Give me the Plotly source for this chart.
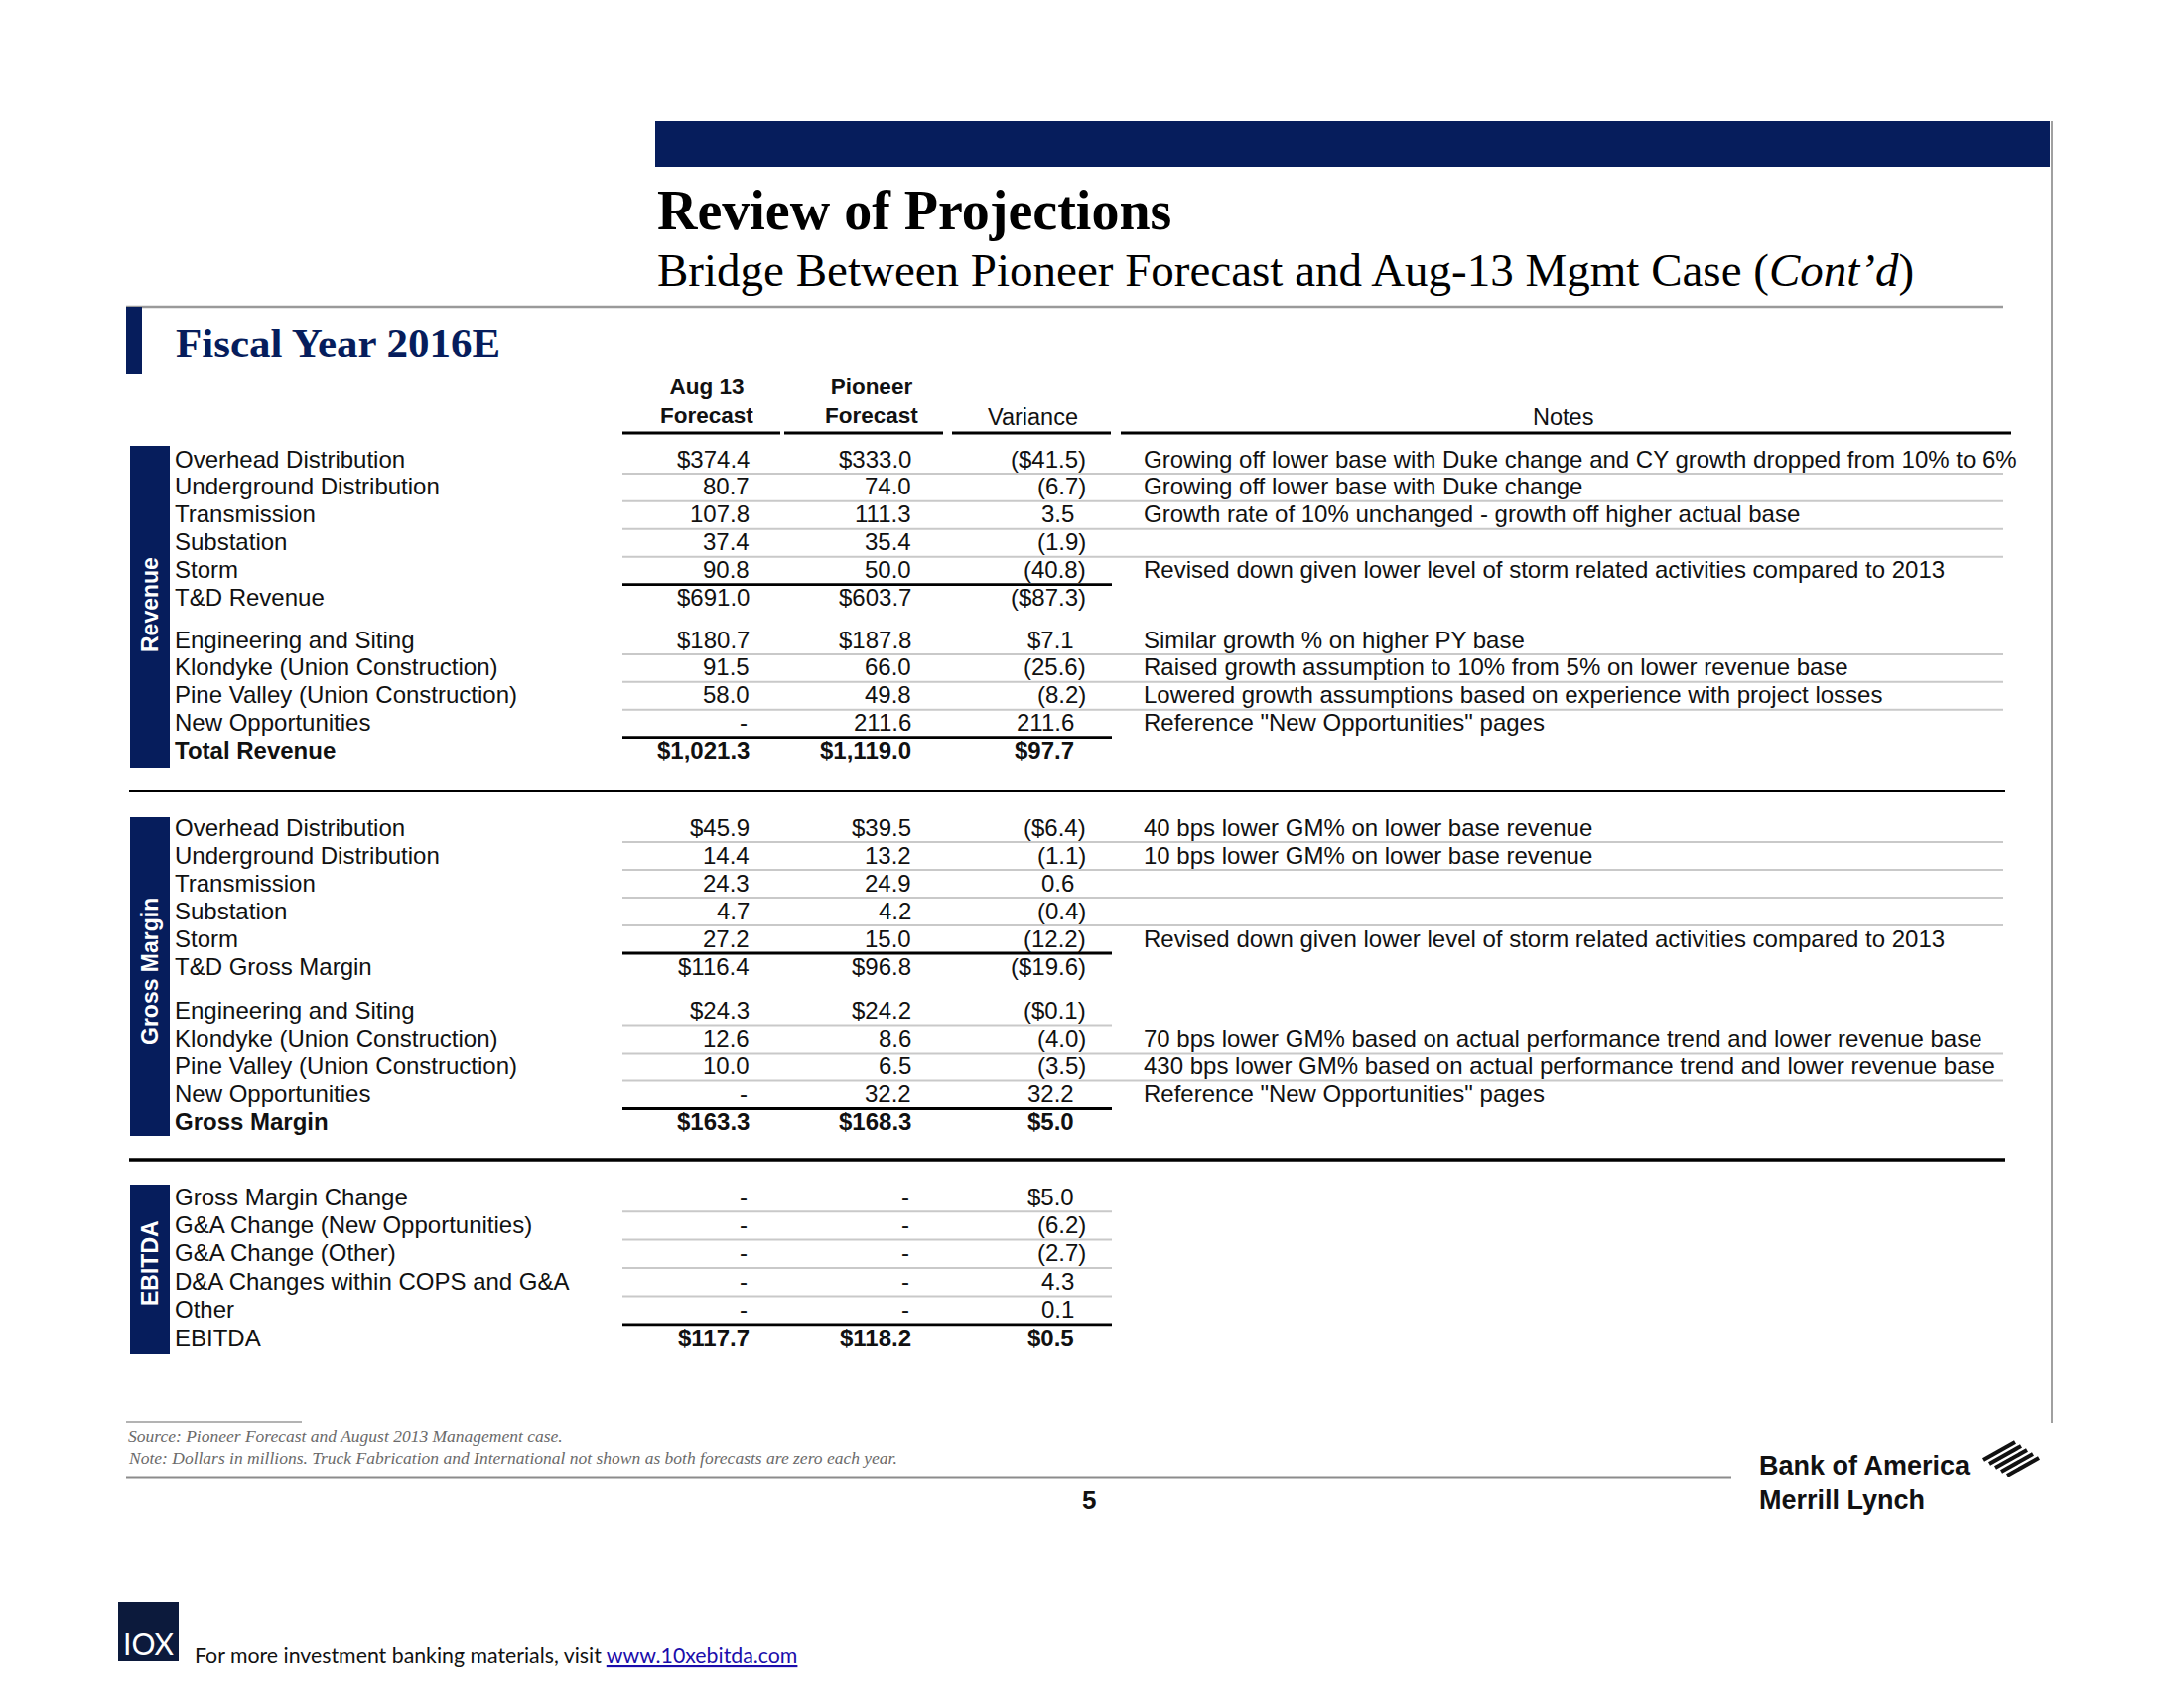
import plotly.graph_objects as go

# ---------------- DATA ----------------
title = "Review of Projections"
subtitle = "Bridge Between Pioneer Forecast and Aug-13 Mgmt Case (<i>Cont\u2019d</i>)"
section_title = "Fiscal Year 2016E"
col_headers = ["Aug 13<br>Forecast", "Pioneer<br>Forecast", "Variance", "Notes"]

rev_labels = ["Overhead Distribution", "Underground Distribution", "Transmission", "Substation", "Storm",
              "T&D Revenue", "Engineering and Siting", "Klondyke (Union Construction)",
              "Pine Valley (Union Construction)", "New Opportunities", "Total Revenue"]
rev_aug = [374.4, 80.7, 107.8, 37.4, 90.8, 691.0, 180.7, 91.5, 58.0, None, 1021.3]
rev_pio = [333.0, 74.0, 111.3, 35.4, 50.0, 603.7, 187.8, 66.0, 49.8, 211.6, 1119.0]
rev_var = [-41.5, -6.7, 3.5, -1.9, -40.8, -87.3, 7.1, -25.6, -8.2, 211.6, 97.7]
rev_notes = ["Growing off lower base with Duke change and CY growth dropped from 10% to 6%",
             "Growing off lower base with Duke change",
             "Growth rate of 10% unchanged - growth off higher actual base",
             "",
             "Revised down given lower level of storm related activities compared to 2013",
             "",
             "Similar growth % on higher PY base",
             "Raised growth assumption to 10% from 5% on lower revenue base",
             "Lowered growth assumptions based on experience with project losses",
             "Reference \"New Opportunities\" pages",
             ""]

gm_labels = ["Overhead Distribution", "Underground Distribution", "Transmission", "Substation", "Storm",
             "T&D Gross Margin", "Engineering and Siting", "Klondyke (Union Construction)",
             "Pine Valley (Union Construction)", "New Opportunities", "Gross Margin"]
gm_aug = [45.9, 14.4, 24.3, 4.7, 27.2, 116.4, 24.3, 12.6, 10.0, None, 163.3]
gm_pio = [39.5, 13.2, 24.9, 4.2, 15.0, 96.8, 24.2, 8.6, 6.5, 32.2, 168.3]
gm_var = [-6.4, -1.1, 0.6, -0.4, -12.2, -19.6, -0.1, -4.0, -3.5, 32.2, 5.0]
gm_notes = ["40 bps lower GM% on lower base revenue",
            "10 bps lower GM% on lower base revenue",
            "", "",
            "Revised down given lower level of storm related activities compared to 2013",
            "", "",
            "70 bps lower GM% based on actual performance trend and lower revenue base",
            "430 bps lower GM% based on actual performance trend and lower revenue base",
            "Reference \"New Opportunities\" pages",
            ""]

eb_labels = ["Gross Margin Change", "G&A Change (New Opportunities)", "G&A Change (Other)",
             "D&A Changes within COPS and G&A", "Other", "EBITDA"]
eb_aug = [None, None, None, None, None, 117.7]
eb_pio = [None, None, None, None, None, 118.2]
eb_var = [5.0, -6.2, -2.7, 4.3, 0.1, 0.5]
eb_notes = ["", "", "", "", "", ""]

side_titles = ["Revenue", "Gross Margin", "EBITDA"]
footnote_source = "Source: Pioneer Forecast and August 2013 Management case."
footnote_note = "Note: Dollars in millions. Truck Fabrication and International not shown as both forecasts are zero each year."
page_number = "5"
footer_text = "For more investment banking materials, visit "
footer_link = "www.10xebitda.com"

# ---------------- STYLE / LAYOUT ----------------
NAVY = "#061d5c"
SANS = "Liberation Sans, Arial, sans-serif"
SERIF = "Liberation Serif, Times New Roman, serif"
FS = 24
GRAY_LINE = "#c9c9c9"

X_LABEL = 174
X_C1 = 757
X_C2 = 920
X_C3_NEG = 1096
X_C3_POS = 1084
X_NOTE = 1150
NUM_L, NUM_R = 627, 1120
NOTE_L, NOTE_R = 1120, 2018

shapes = []
ann = []


def line(x0, y0, x1, y1, color, w):
    shapes.append(dict(type="line", x0=x0, y0=y0, x1=x1, y1=y1, xref="x", yref="y",
                       line=dict(color=color, width=w)))


def rect(x0, y0, x1, y1, color):
    shapes.append(dict(type="rect", x0=x0, y0=y0, x1=x1, y1=y1, xref="x", yref="y",
                       line=dict(width=0), fillcolor=color))


def text(x, y, s, size=FS, color="#111111", family=SANS, xanchor="left", yanchor="middle",
         angle=0):
    ann.append(dict(x=x, y=y, xref="x", yref="y", text=s, showarrow=False,
                    xanchor=xanchor, yanchor=yanchor, textangle=angle,
                    font=dict(size=size, color=color, family=family)))


def fmt(v, dollar):
    if v is None:
        return "-"
    s = f"{abs(v):,.1f}"
    if dollar:
        s = "$" + s
    if v < 0:
        s = "(" + s + ")"
    return s


def row_ys(start, n, pitch, gap):
    ys = []
    for i in range(n):
        if i <= 5:
            ys.append(start + i * pitch)
        else:
            ys.append(start + 5 * pitch + gap + (i - 6) * pitch)
    return ys


def draw_group(labels, aug, pio, var, notes, ys, dollar_rows, bold_label_last,
               note_lines, num_lines, black_after, bar, side_title, side_center):
    rect(131, bar[0], 171, bar[1], NAVY)
    text(151, side_center, f"<b>{side_title}</b>", size=23, color="white",
         xanchor="center", angle=-90)
    n = len(labels)
    for i in range(n):
        y = ys[i]
        last = (i == n - 1)
        lab = labels[i]
        if last and bold_label_last:
            lab = f"<b>{lab}</b>"
        text(X_LABEL, y, lab)
        d = i in dollar_rows
        a = fmt(aug[i], d)
        p = fmt(pio[i], d)
        v = fmt(var[i], d)
        if last:
            a, p, v = f"<b>{a}</b>", f"<b>{p}</b>", f"<b>{v}</b>"
        text(X_C1 - (2 if aug[i] is None else 0), y, a, xanchor="right")
        text(X_C2 - (2 if pio[i] is None else 0), y, p, xanchor="right")
        text(X_C3_NEG if var[i] < 0 else X_C3_POS, y, v, xanchor="right")
        if notes[i]:
            text(X_NOTE, y, notes[i])
    for i in num_lines:
        ym = (ys[i] + ys[i + 1]) / 2 + 1
        line(NUM_L, ym, NUM_R, ym, GRAY_LINE, 2)
    for i in note_lines:
        ym = (ys[i] + ys[i + 1]) / 2 + 1
        line(NOTE_L, ym, NOTE_R, ym, GRAY_LINE, 2)
    for i in black_after:
        ym = (ys[i] + ys[i + 1]) / 2 + 1
        line(NUM_L, ym, NUM_R, ym, "#000000", 2.8)


# ---- header area ----
rect(660, 122, 2065, 168, NAVY)
line(2067, 122, 2067, 1433, "#a0a0a0", 2)
text(660, 212, f"<b>{title}</b>", size=56, color="#000000", family=SERIF)
text(660, 272, subtitle, size=47, color="#000000", family=SERIF)
line(127, 309, 2018, 309, "#9a9a9a", 2.5)
rect(127, 309, 143, 377, NAVY)
text(175, 345, f"<b>{section_title}</b>", size=43, color=NAVY, family=SERIF)

# column headers
text(712, 404, f"<b>{col_headers[0]}</b>", size=22.5, xanchor="center")
text(878, 404, f"<b>{col_headers[1]}</b>", size=22.5, xanchor="center")
text(1040, 420, col_headers[2], size=23.5, xanchor="center")
text(1574, 420, col_headers[3], size=23.5, xanchor="center")
for x0, x1 in [(627, 786), (790, 950), (959, 1119), (1129, 2026)]:
    line(x0, 436, x1, 436, "#000000", 2.8)

# ---- groups ----
rev_ys = row_ys(462, 11, 27.9, 42.5)
draw_group(rev_labels, rev_aug, rev_pio, rev_var, rev_notes, rev_ys,
           dollar_rows={0, 5, 6, 10}, bold_label_last=True,
           note_lines=[0, 1, 2, 3, 6, 7, 8], num_lines=[0, 1, 2, 3, 6, 7, 8],
           black_after=[4, 9], bar=(449, 773), side_title=side_titles[0], side_center=609)

line(130, 797, 2020, 797, "#000000", 2)

gm_ys = row_ys(833, 11, 28.0, 44.5)
draw_group(gm_labels, gm_aug, gm_pio, gm_var, gm_notes, gm_ys,
           dollar_rows={0, 5, 6, 10}, bold_label_last=True,
           note_lines=[0, 1, 2, 3, 7, 8], num_lines=[0, 1, 2, 3, 6, 7, 8],
           black_after=[4, 9], bar=(823, 1144), side_title=side_titles[1], side_center=978)

line(130, 1168, 2020, 1168, "#000000", 3.5)

eb_ys = [1205 + i * 28.4 for i in range(6)]
draw_group(eb_labels, eb_aug, eb_pio, eb_var, eb_notes, eb_ys,
           dollar_rows={0, 5}, bold_label_last=False,
           note_lines=[], num_lines=[0, 1, 2, 3],
           black_after=[4], bar=(1193, 1364), side_title=side_titles[2], side_center=1272)

# ---- footnotes ----
line(127, 1432, 304, 1432, "#9a9a9a", 1.5)
text(127, 1446, f"<i>{footnote_source}</i>", size=17.5, color="#6a6a6a", family=SERIF)
text(127, 1468, f"<i>{footnote_note}</i>", size=17.5, color="#6a6a6a", family=SERIF)
line(127, 1488, 1744, 1488, "#8c8c8c", 3)
text(1097, 1511, f"<b>{page_number}</b>", size=26, color="#111111", xanchor="center")

# BofA Merrill Lynch logo
text(1770, 1476, "<b>Bank of America</b>", size=27, color="#111111")
text(1770, 1511, "<b>Merrill Lynch</b>", size=27, color="#111111")
for i in range(5):
    line(1998 + 6 * i, 1470 + 4 * i, 2030 + 6 * i, 1452 + 4 * i, "#111111", 4)

# 10X footer
rect(119, 1613, 180, 1673, "#0c1a3c")
text(150, 1655, "IOX", size=30, color="white", family="Lato, Open Sans, sans-serif", xanchor="center")
text(194, 1667, footer_text + f"<span style='color:#1a0dab'><u>{footer_link}</u></span>",
     size=21.3, color="#111111", family="Lato, Open Sans, sans-serif")

# page body has an 8px margin: offset the coordinate frame so page pixels match
OFF = 8
W, H = 2200 - 2 * OFF, 1700 - 2 * OFF
fig = go.Figure()
fig.update_layout(
    width=W, height=H,
    margin=dict(l=0, r=0, t=0, b=0),
    paper_bgcolor="white", plot_bgcolor="white",
    xaxis=dict(range=[OFF, OFF + W], visible=False, fixedrange=True),
    yaxis=dict(range=[OFF + H, OFF], visible=False, fixedrange=True),
    shapes=shapes, annotations=ann, showlegend=False,
)
fig.write_html("out.html")
